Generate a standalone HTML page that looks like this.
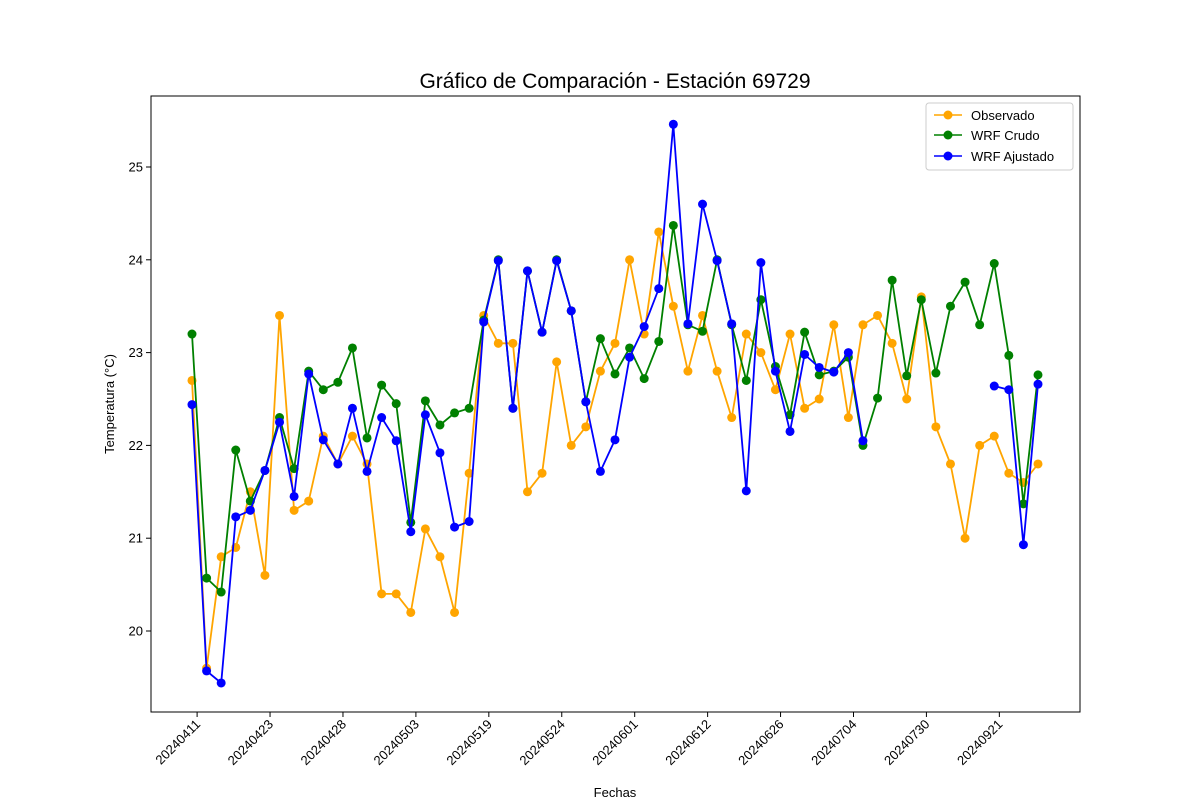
<!DOCTYPE html>
<html><head><meta charset="utf-8"><style>
body{margin:0;background:#fff;}
svg{display:block;font-family:"Liberation Sans","DejaVu Sans",sans-serif;}
</style></head><body>
<svg id="chart" width="1200" height="800">
<rect x="0" y="0" width="1200" height="800" fill="#fff"/>
<text x="615" y="88" text-anchor="middle" font-size="21">Gráfico de Comparación - Estación 69729</text>
<g id="plot"></g>
<rect x="151" y="96" width="929" height="616" fill="none" stroke="#000" stroke-width="1"/>
<text x="615" y="797" text-anchor="middle" font-size="13">Fechas</text>
<text transform="translate(114,404) rotate(-90)" text-anchor="middle" font-size="13">Temperatura (°C)</text>
<g>
<rect x="926" y="103" width="147" height="67" rx="3" fill="#fff" stroke="#ccc"/>
<g><line x1="934" y1="115" x2="962" y2="115" stroke="orange" stroke-width="1.6"/><circle cx="948" cy="115" r="4.5" fill="orange"/><text x="971" y="120" font-size="13">Observado</text></g>
<g><line x1="934" y1="135" x2="962" y2="135" stroke="green" stroke-width="1.6"/><circle cx="948" cy="135" r="4.5" fill="green"/><text x="971" y="140" font-size="13">WRF Crudo</text></g>
<g><line x1="934" y1="156" x2="962" y2="156" stroke="blue" stroke-width="1.6"/><circle cx="948" cy="156" r="4.5" fill="blue"/><text x="971" y="161" font-size="13">WRF Ajustado</text></g>
</g>
</svg>
<script>
const observado=[22.7,19.6,20.8,20.9,21.5,20.6,23.4,21.3,21.4,22.1,21.8,22.1,21.8,20.4,20.4,20.2,21.1,20.8,20.2,21.7,23.4,23.1,23.1,21.5,21.7,22.9,22.0,22.2,22.8,23.1,24.0,23.2,24.3,23.5,22.8,23.4,22.8,22.3,23.2,23.0,22.6,23.2,22.4,22.5,23.3,22.3,23.3,23.4,23.1,22.5,23.6,22.2,21.8,21.0,22.0,22.1,21.7,21.6,21.8];
const wrfCrudo=[23.2,20.57,20.42,21.95,21.4,21.73,22.3,21.75,22.8,22.6,22.68,23.05,22.08,22.65,22.45,21.17,22.48,22.22,22.35,22.4,23.35,24.0,22.4,23.88,23.22,24.0,23.45,22.47,23.15,22.77,23.05,22.72,23.12,24.37,23.3,23.23,24.0,23.3,22.7,23.57,22.85,22.33,23.22,22.76,22.8,22.95,22.0,22.51,23.78,22.75,23.57,22.78,23.5,23.76,23.3,23.96,22.97,21.37,22.76];
const wrfAjustado=[22.44,19.57,19.44,21.23,21.3,21.73,22.25,21.45,22.77,22.06,21.8,22.4,21.72,22.3,22.05,21.07,22.33,21.92,21.12,21.18,23.33,23.99,22.4,23.88,23.22,23.99,23.45,22.47,21.72,22.06,22.95,23.28,23.69,25.46,23.31,24.6,23.99,23.31,21.51,23.97,22.8,22.15,22.98,22.84,22.79,23.0,22.05,null,null,null,null,null,null,null,null,22.64,22.6,20.93,22.66];
const xTickLabels=["20240411","20240423","20240428","20240503","20240519","20240524","20240601","20240612","20240626","20240704","20240730","20240921"];
const yTicks=[20,21,22,23,24,25];

const NS="http://www.w3.org/2000/svg";
const plot=document.getElementById('plot');
const xScale=i=>192+i*(1038-192)/(observado.length-1);
const yScale=v=>631-(v-20)*92.8;
const xTickPos=k=>xScale(k*5+0.35);
function mk(tag,attrs){const e=document.createElementNS(NS,tag);for(const k in attrs)e.setAttribute(k,attrs[k]);plot.appendChild(e);return e;}
yTicks.forEach(t=>{
  const y=yScale(t);
  const l=mk('line',{x1:146,x2:151,y1:y,y2:y,stroke:'#000'});
  
  
  const tx=mk('text',{x:143,y:y+4.5,'text-anchor':'end','font-size':13});
  
  
  tx.textContent=t;
});
xTickLabels.forEach((lab,k)=>{
  const x=xTickPos(k);
  const l=mk('line',{x1:x,x2:x,y1:712,y2:717,stroke:'#000'});
  
  
  const tx=mk('text',{x:x+4,y:725,'text-anchor':'end','font-size':13,transform:`rotate(-45 ${x+4} 725)`});
  
  
  tx.textContent=lab;
});
function series(data,color,name){
  let d='',pen=false;
  data.forEach((v,i)=>{if(v==null){pen=false;return;}d+=(pen?'L':'M')+xScale(i).toFixed(1)+' '+yScale(v).toFixed(1)+' ';pen=true;});
  const p=mk('path',{d:d,fill:'none',stroke:color,'stroke-width':1.8,'stroke-linejoin':'round'});
  
  
  data.forEach((v,i)=>{if(v==null)return;
    const c=mk('circle',{cx:xScale(i),cy:yScale(v),r:4.5,fill:color});
    
    
  });
}
series(observado,'orange','observado');
series(wrfCrudo,'green','wrf-crudo');
series(wrfAjustado,'blue','wrf-ajustado');
</script>
</body></html>
